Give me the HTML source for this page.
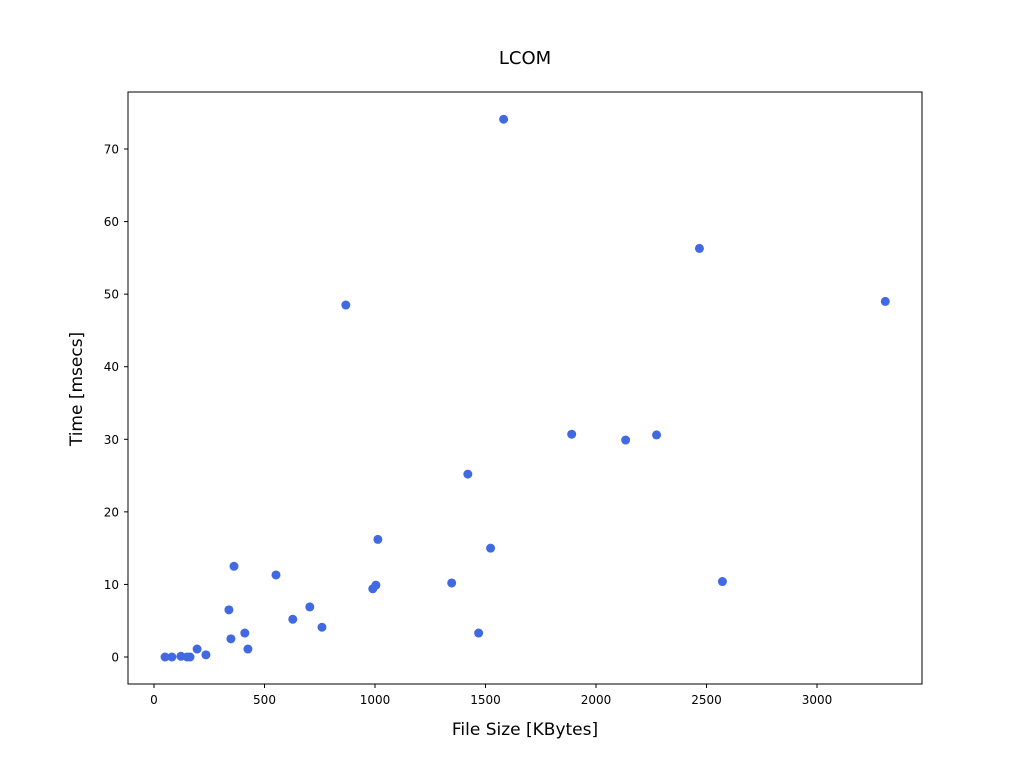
<!DOCTYPE html>
<html><head><meta charset="utf-8"><style>
body{margin:0;background:#fff;font-family:"Liberation Sans","DejaVu Sans",sans-serif}
</style></head><body>
<svg id="chart" width="1024" height="768" xmlns="http://www.w3.org/2000/svg">
<rect width="1024" height="768" fill="#fff"/>
<text x="525" y="64" text-anchor="middle" font-size="18" font-family="DejaVu Sans, sans-serif">LCOM</text>
<g id="marks"></g>
<rect x="128" y="92" width="794" height="592" fill="none" stroke="#000" stroke-width="1"/>
<g id="xt"></g>
<g id="yt"></g>
<text x="525" y="735" text-anchor="middle" font-size="17" font-family="DejaVu Sans, sans-serif">File Size [KBytes]</text>
<text transform="translate(82,389) rotate(-90)" text-anchor="middle" font-size="17" font-family="DejaVu Sans, sans-serif">Time [msecs]</text>
</svg>
<script>
const sizes=[50,81,122,150,163,195,235,339,348,362,411,425,552,628,705,760,868,990,1004,1013,1347,1420,1469,1523,1582,1890,2134,2274,2468,2572,3309];
const times=[0,0,0.1,0,0,1.1,0.3,6.5,2.5,12.5,3.3,1.1,11.3,5.2,6.9,4.1,48.5,9.4,9.9,16.2,10.2,25.2,3.3,15.0,74.1,30.7,29.9,30.6,56.3,10.4,49.0];
const xTicks=[0,500,1000,1500,2000,2500,3000];
const yTicks=[0,10,20,30,40,50,60,70];
const NS="http://www.w3.org/2000/svg";
const xs=v=>154+v*(663/3000);
const ys=v=>657-v*(508/70);
const m=document.getElementById('marks');
sizes.forEach((s,i)=>{
 const c=document.createElementNS(NS,'circle');
 c.setAttribute('cx',xs(s));c.setAttribute('cy',ys(times[i]));c.setAttribute('r',4.5);c.setAttribute('fill','#4169e1');
 
 
 m.appendChild(c);
});
const xt=document.getElementById('xt');
xTicks.forEach(t=>{
 const x=xs(t);
 const l=document.createElementNS(NS,'line');
 l.setAttribute('x1',x);l.setAttribute('x2',x);l.setAttribute('y1',684);l.setAttribute('y2',688);l.setAttribute('stroke','#000');
 
 
 xt.appendChild(l);
 const tx=document.createElementNS(NS,'text');
 tx.setAttribute('x',x);tx.setAttribute('y',704);tx.setAttribute('text-anchor','middle');tx.setAttribute('font-size','12');tx.setAttribute('font-family','DejaVu Sans, sans-serif');
 tx.textContent=t;
 
 
 xt.appendChild(tx);
});
const yt=document.getElementById('yt');
yTicks.forEach(t=>{
 const y=ys(t);
 const l=document.createElementNS(NS,'line');
 l.setAttribute('x1',124);l.setAttribute('x2',128);l.setAttribute('y1',y);l.setAttribute('y2',y);l.setAttribute('stroke','#000');
 
 
 yt.appendChild(l);
 const tx=document.createElementNS(NS,'text');
 tx.setAttribute('x',119);tx.setAttribute('y',y+4.5);tx.setAttribute('text-anchor','end');tx.setAttribute('font-size','12');tx.setAttribute('font-family','DejaVu Sans, sans-serif');
 tx.textContent=t;
 
 
 yt.appendChild(tx);
});
</script>
</body></html>
